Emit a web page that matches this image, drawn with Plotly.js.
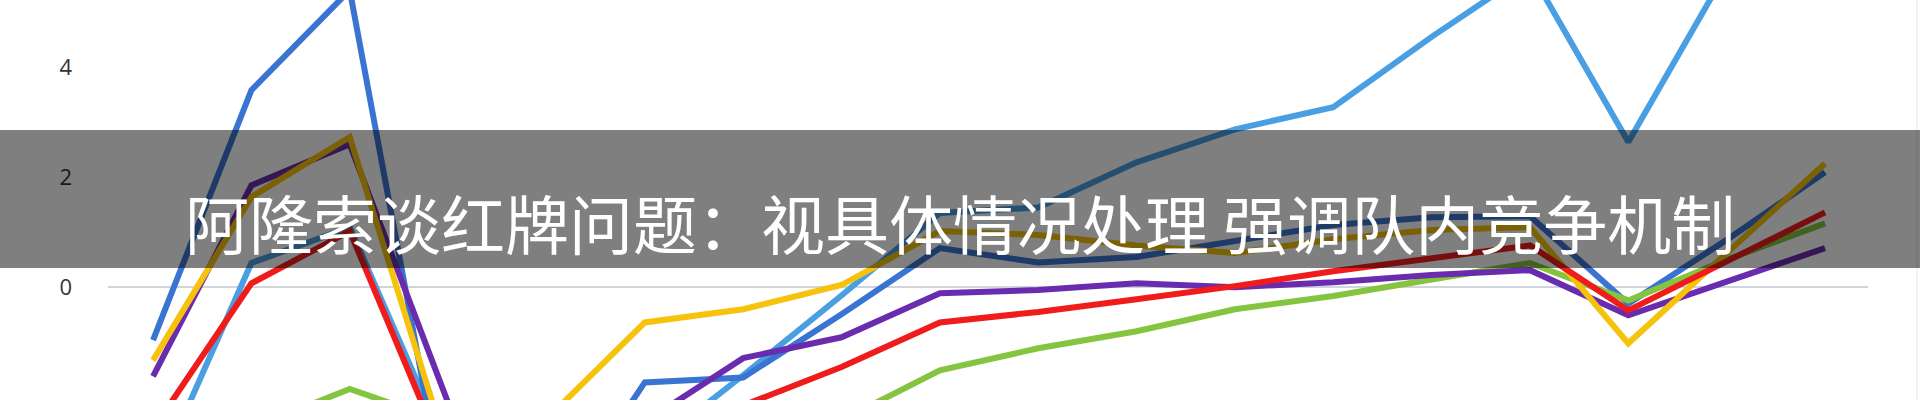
<!DOCTYPE html>
<html>
<head>
<meta charset="utf-8">
<script src="https://cdn.plot.ly/plotly-3.0.1.min.js"></script>
<style>
  html, body { margin: 0; padding: 0; background: #ffffff; }
  #chart { width: 1920px; height: 400px; }
</style>
</head>
<body>
<div id="chart"></div>
<script>
// ---- data ----
const categories = ['1','2','3','4','5','6','7','8','9','10','11','12','13','14','15','16','17','18'];

const blueDark  = [-0.96, 3.58, 5.4, -4.2, -4.4, -1.73, -1.64, -0.49, 0.71, 0.45, 0.55, 0.85, 1.13, 1.27, 1.29, -0.3, 0.86, 2.09];
const blueLight = [-3.6, 0.44, 1.09, -3.0, -3.5, -3.0, -1.6, -0.15, 1.35, 1.45, 2.27, 2.87, 3.27, 4.55, 5.75, 2.64, 5.75, 6.2];
const yellow    = [-1.33, 1.64, 2.73, -3.0, -2.4, -0.64, -0.4, 0.04, 1.02, 0.95, 0.76, 0.62, 0.87, 1.04, 1.09, -1.02, 0.62, 2.25];
const purple    = [-1.62, 1.85, 2.6, -2.1, -3.0, -2.45, -1.29, -0.91, -0.11, -0.05, 0.07, 0.0, 0.09, 0.22, 0.31, -0.51, 0.1, 0.71];
const red       = [-2.58, 0.07, 1.02, -3.24, -3.2, -2.8, -2.15, -1.45, -0.64, -0.45, -0.22, 0.02, 0.29, 0.53, 0.76, -0.42, 0.47, 1.36];
const green     = [-2.9, -2.56, -1.85, -2.47, -3.0, -2.9, -2.7, -2.42, -1.51, -1.11, -0.8, -0.4, -0.16, 0.13, 0.44, -0.24, 0.5, 1.16];

const yTickVals = [-2, 0, 2, 4];
const yTickText = ['-2', '0', '2', '4'];

const bannerTitle = '阿隆索谈红牌问题：视具体情况处理 强调队内竞争机制';

// ---- layout geometry ----
const W = 1920, H = 400;
const ML = 108, MR = 52;
const PW = W - ML - MR;
const px2paperX = p => (p - ML) / PW;
const px2paperY = p => 1 - p / H;

const seriesList = [
  {y: blueLight, color: '#4a9fe2'},
  {y: blueDark,  color: '#3a74d2'},
  {y: green,     color: '#84c43e'},
  {y: purple,    color: '#6a2cae'},
  {y: yellow,    color: '#f6c20c'},
  {y: red,       color: '#f01c1c'}
];

const traces = seriesList.map(s => ({
  type: 'scatter',
  mode: 'lines',
  x: categories,
  y: s.y,
  line: {color: s.color, width: 6},
  hoverinfo: 'skip',
  showlegend: false
}));

const layout = {
  width: W,
  height: H,
  margin: {l: ML, r: MR, t: 0, b: 0, pad: 0},
  paper_bgcolor: '#ffffff',
  plot_bgcolor: '#ffffff',
  showlegend: false,
  xaxis: {
    type: 'category',
    range: [-0.458, 17.437],
    showgrid: false,
    zeroline: false,
    showline: false,
    showticklabels: false,
    ticks: ''
  },
  yaxis: {
    range: [-2.05, 5.22],
    tickvals: yTickVals,
    ticktext: yTickText,
    showgrid: false,
    zeroline: true,
    zerolinecolor: '#d0d4dd',
    zerolinewidth: 2,
    showline: false,
    ticks: '',
    ticklabelstandoff: 35,
    tickfont: {family: 'Open Sans, Noto Sans, sans-serif', size: 22, color: '#333333'}
  },
  shapes: [
    {
      type: 'rect', layer: 'above',
      xref: 'paper', yref: 'paper',
      x0: px2paperX(0), x1: px2paperX(W),
      y0: px2paperY(268), y1: px2paperY(130),
      fillcolor: 'rgba(0,0,0,0.5)',
      line: {width: 0}
    },
    {
      type: 'line', layer: 'above',
      xref: 'paper', yref: 'paper',
      x0: px2paperX(1917), x1: px2paperX(1917),
      y0: 0, y1: 1,
      line: {color: 'rgba(0,0,0,0.05)', width: 2}
    }
  ],
  annotations: [
    {
      text: bannerTitle,
      xref: 'paper', yref: 'paper',
      x: px2paperX(960), y: px2paperY(221),
      xanchor: 'center', yanchor: 'middle',
      showarrow: false,
      font: {family: 'Noto Sans CJK SC, sans-serif', size: 64, color: '#ffffff'}
    }
  ]
};

Plotly.newPlot('chart', traces, layout, {staticPlot: true, displayModeBar: false});
</script>
</body>
</html>
